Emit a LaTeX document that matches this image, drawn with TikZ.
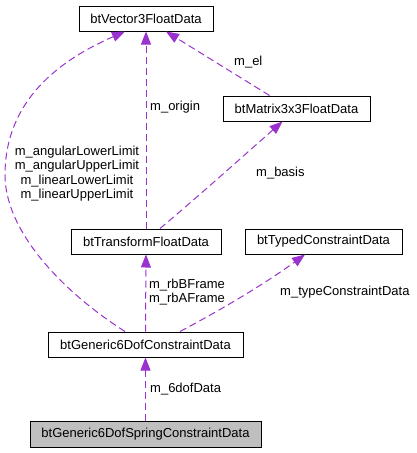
\documentclass[tikz,border=0pt]{standalone}
\usepackage{fontspec}
\setmainfont{Liberation Sans}
\usetikzlibrary{arrows.meta,calc}
\definecolor{edgecol}{HTML}{9A32CD}
\definecolor{springfill}{HTML}{BFBFBF}
\tikzset{
  cls/.style={draw=black, line width=1pt, rectangle, inner sep=0pt, minimum height=25pt, font=\fontsize{13}{15.6}\selectfont},
  dep/.style={draw=edgecol, line width=1pt, dash pattern=on 7pt off 4pt, -{Triangle[length=13pt,width=10pt,fill=edgecol]}},
  lbl/.style={inner sep=0pt, font=\fontsize{13}{14.4}\selectfont, align=center}
}
\begin{document}
\begin{tikzpicture}[x=1pt,y=-1pt]
\useasboundingbox (0,0) rectangle (417,453);
\node[cls, minimum width=134pt] (v3) at (146,18.5) {btVector3FloatData};
\node[cls, minimum width=147pt] (mat) at (296.5,108.5) {btMatrix3x3FloatData};
\node[cls, minimum width=150pt] (tr) at (146,241.5) {btTransformFloatData};
\node[cls, minimum width=157pt] (ty) at (323.5,241.5) {btTypedConstraintData};
\node[cls, minimum width=195pt] (gen) at (145.5,344.5) {btGeneric6DofConstraintData};
\node[cls, minimum width=231pt, minimum height=26pt, fill=springfill] (spr) at (145.5,434) {btGeneric6DofSpringConstraintData};

% spring -> generic
\draw[dep] (spr.north) -- (gen.south);
\node[lbl, anchor=west] (l6) at (150,389) {m\_6dofData};

% generic -> transform
\draw[dep] (gen.north) -- (tr.south);
\node[lbl] (lrb) at (187,292) {m\_rbBFrame\\m\_rbAFrame};

% generic -> typed
\draw[dep] ([xshift=34.5pt]gen.north) .. controls (230,305) and (270,280) .. ([xshift=-18.5pt]ty.south);
\node[lbl, anchor=west] (lty) at (280,292) {m\_typeConstraintData};

% generic -> vector3
\draw[dep] ([xshift=-20.5pt]gen.north) .. controls (60,290) and (5,230) .. (5,175) .. controls (5,100) and (60,60) .. ([xshift=-21pt]v3.south);
\node[lbl] (llim) at (77,173.5) {m\_angularLowerLimit\\m\_angularUpperLimit\\m\_linearLowerLimit\\m\_linearUpperLimit};

% transform -> vector3
\draw[dep] (tr.north) -- (v3.south);
\node[lbl, anchor=west] (lor) at (150,107) {m\_origin};

% transform -> matrix
\draw[dep] ([xshift=14pt]tr.north) .. controls (200,195) and (250,150) .. ([xshift=-14pt]mat.south);
\node[lbl, anchor=west] (lba) at (256,173) {m\_basis};

% matrix -> vector3
\draw[dep] ([xshift=-27pt]mat.north) -- ([xshift=20pt]v3.south);
\node[lbl, anchor=west] (lel) at (234,62) {m\_el};
\end{tikzpicture}
\end{document}
